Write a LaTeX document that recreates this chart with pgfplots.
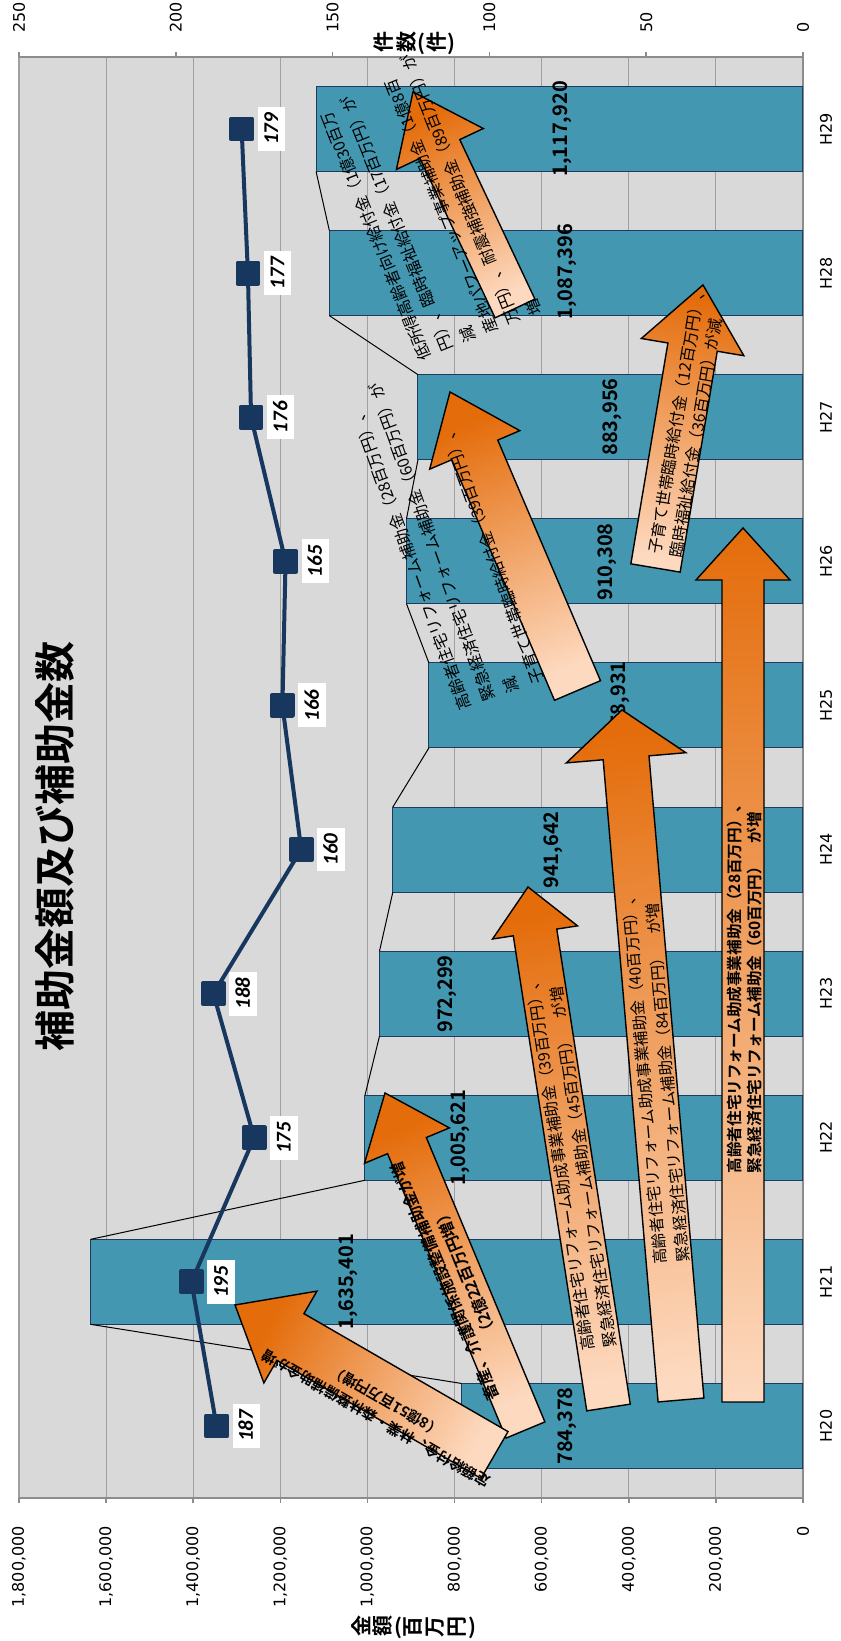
\documentclass[border=0pt]{standalone}
\usepackage{fontspec}
\setmainfont{Noto Sans CJK JP}[BoldFont={Noto Sans CJK JP Bold}]
\newfontfamily\dejavu{DejaVu Sans}
\newfontfamily\carlito{Carlito}
\usepackage{graphicx}
\usepackage{pgfplots}
\pgfplotsset{compat=1.18}
\usetikzlibrary{calc}

\definecolor{plotbg}{HTML}{D9D9D9}
\definecolor{gridc}{HTML}{A0A0A0}
\definecolor{axisc}{HTML}{8C8C8C}
\definecolor{barfill}{HTML}{4397B0}
\definecolor{baredge}{HTML}{1F3A5F}
\definecolor{navy}{HTML}{17375E}
\definecolor{arrdark}{HTML}{E46C0A}
\definecolor{arrlight}{HTML}{FDD9BF}

% #1 tail (X,Y) px, #2 tip (X,Y) px, #3 shaft half width, #4 head half width, #5 head length, #6 shading angle
\newcommand{\blockarrow}[6]{%
  \coordinate (aT) at #1; \coordinate (aP) at #2;
  \coordinate (aB) at ($(aP)!#5!(aT)$);
  \path[draw=black, line width=0.7pt, line join=miter, top color=arrdark, bottom color=arrlight, shading angle=#6]
    ($(aT)!#3!90:(aP)$) -- ($(aB)!#3!90:(aP)$) -- ($(aB)!#4!90:(aP)$) -- (aP)
    -- ($(aB)!#4!-90:(aP)$) -- ($(aB)!#3!-90:(aP)$) -- ($(aT)!#3!-90:(aP)$) -- cycle;
}
\newcommand{\rc}[1]{\makebox[1.05em][c]{\rotatebox[origin=c]{90}{#1}}}

\begin{document}
\begin{tikzpicture}
\useasboundingbox (0,0) rectangle (420pt,820.5pt);

\begin{axis}[
  at={(9.5pt,71.5pt)}, anchor=south west,
  width=392pt, height=720.5pt, scale only axis,
  xmin=0, xmax=1800000, x dir=reverse,
  ymin=-0.5, ymax=9.5,
  axis background/.style={fill=plotbg},
  axis x line*=bottom, axis y line*=right,
  axis line style={axisc, line width=1pt},
  xtick={0,200000,...,1800000},
  xmajorgrids, major grid style={draw=gridc, line width=0.6pt},
  xtick align=outside, major tick length=2.5pt,
  tick style={axisc, line width=0.8pt},
  ytick={0,...,9},
  yticklabels={H20,H21,H22,H23,H24,H25,H26,H27,H28,H29},
  ytick style={draw=none},
  scaled x ticks=false,
  xticklabel={\pgfmathprintnumber[fixed,precision=0,1000 sep={,},assume math mode=true]{\tick}},
  xticklabel style={rotate=90, anchor=east, font=\dejavu\fontsize{8}{9}\selectfont},
  xticklabel shift=8pt,
  yticklabel style={rotate=90, anchor=north, font=\dejavu\fontsize{8}{9}\selectfont},
  yticklabel shift=5pt,
  clip=false,
]
\addplot[xbar, bar width=0.59, fill=barfill, draw=baredge, line width=0.5pt]
  coordinates {(784378,0) (1635401,1) (1005621,2) (972299,3) (941642,4)
               (858931,5) (910308,6) (883956,7) (1087396,8) (1117920,9)};
% series lines between bars
\addplot[black, line width=0.5pt, unbounded coords=jump, mark=none]
  coordinates {(784378,0.295) (1635401,0.705) (nan,nan)
               (1635401,1.295) (1005621,1.705) (nan,nan)
               (1005621,2.295) (972299,2.705) (nan,nan)
               (972299,3.295) (941642,3.705) (nan,nan)
               (941642,4.295) (858931,4.705) (nan,nan)
               (858931,5.295) (910308,5.705) (nan,nan)
               (910308,6.295) (883956,6.705) (nan,nan)
               (883956,7.295) (1087396,7.705) (nan,nan)
               (1087396,8.295) (1117920,8.705)};
\end{axis}

\begin{axis}[
  at={(9.5pt,71.5pt)}, anchor=south west,
  width=392pt, height=720.5pt, scale only axis,
  xmin=0, xmax=250, x dir=reverse,
  ymin=-0.5, ymax=9.5,
  axis x line*=top, axis y line=none,
  axis line style={axisc, line width=1pt},
  xtick={0,50,...,250},
  xtick align=outside, major tick length=2.5pt,
  tick style={axisc, line width=0.8pt},
  xticklabel={\pgfmathprintnumber[fixed,precision=0,assume math mode=true]{\tick}},
  xticklabel style={rotate=90, anchor=west, font=\dejavu\fontsize{8}{9}\selectfont},
  xticklabel shift=6pt,
  clip=false,
]
\addplot[navy, line width=2pt, line join=round, mark=square*, mark size=5.2pt,
  mark options={solid, fill=navy, draw=navy},
  point meta=x,
  nodes near coords={\pgfmathprintnumber[fixed,precision=0,assume math mode=true]{\pgfplotspointmeta}},
  every node near coord/.style={xshift=7pt, rotate=90, anchor=north, fill=white, text=black,
     inner sep=3pt, text height=7.2pt, text depth=0.5pt,
     font=\carlito\bfseries\itshape\fontsize{10.5}{12}\selectfont}]
  coordinates {(187,0) (195,1) (175,2) (188,3) (160,4) (166,5) (165,6) (176,7) (177,8) (179,9)};
\end{axis}

\begin{scope}[x=0.5pt, y=-0.5pt, shift={(0pt,820.5pt)}]
% title and axis titles
\node[rotate=90, font=\bfseries\fontsize{20.5}{24}\selectfont] at (55,847) {補助金額及び補助金数};
\node[font=\bfseries\fontsize{10.5}{12}\selectfont, inner sep=0pt] at (413,1627) {\rc{金}\rc{額}(\rc{百}\rc{万}\rc{円})};
\node[font=\bfseries\fontsize{10.5}{12}\selectfont, inner sep=0pt] at (414,43) {\rc{件}\rc{数}(\rc{件})};

% bar value labels
\begin{scope}[every node/.style={rotate=90, font=\bfseries\fontsize{10}{12}\selectfont}]
\node at (567,1426) {784,378};
\node at (348,1282) {1,635,401};
\node at (460,1138) {1,005,621};
\node at (447,994) {972,299};
\node at (553,850) {941,642};
\node at (620,700) {858,931};
\node at (607,562) {910,308};
\node at (612,417) {883,956};
\node at (567,272) {1,087,396};
\node at (562,129) {1,117,920};
\end{scope}

% arrows
\blockarrow{(525.5,1430)}{(385,1093)}{10.5pt}{23pt}{28.5pt}{22.6}
\blockarrow{(494.5,1455)}{(235,1305)}{13.5pt}{26.5pt}{32pt}{60}
\blockarrow{(608.5,1407.5)}{(528,887)}{11pt}{21.5pt}{23pt}{8.8}
\blockarrow{(681,1400)}{(622,710)}{11.5pt}{30pt}{24pt}{4.9}
\blockarrow{(743,1402)}{(743,528)}{10.5pt}{23.5pt}{26pt}{0}
\blockarrow{(577.5,690.5)}{(450,392)}{12.5pt}{24.5pt}{31.5pt}{23.1}
\blockarrow{(655.5,568)}{(703,285)}{12.5pt}{26pt}{31.5pt}{-9.5}
\blockarrow{(515,308.5)}{(413,92)}{11pt}{24pt}{31.5pt}{25.2}

% arrow texts
\node[rotate=150, font=\bfseries\fontsize{7.2}{10}\selectfont, align=center] at (381,1410)
  {定額給付金、林業・森林整備補助金が増\\（8億51百万円増）};
\node[rotate=112.6, font=\bfseries\fontsize{8}{11}\selectfont, align=center] at (455,1277)
  {畜産、介護関係施設整備補助金が増\\（2億22百万円増）};
\node[rotate=98.6, font=\fontsize{7.9}{11.4}\selectfont, align=left] at (571,1161)
  {高齢者住宅リフォーム助成事業補助金（39百万円）、\\緊急経済住宅リフォーム補助金（45百万円）　が増};
\node[rotate=95, font=\fontsize{7.8}{11.4}\selectfont, align=left] at (655.5,1076)
  {高齢者住宅リフォーム助成事業補助金（40百万円）、\\緊急経済住宅リフォーム補助金（84百万円）　が増};
\node[rotate=90, font=\bfseries\fontsize{7.8}{10}\selectfont, align=left] at (745,985)
  {高齢者住宅リフォーム助成事業補助金（28百万円）、\\緊急経済住宅リフォーム補助金（60百万円）　が増};
\node[rotate=110, anchor=north west, inner sep=0pt, font=\fontsize{8}{13}\selectfont, align=left] at (458,713)
  {高齢者住宅リフォーム補助金（28百万円）、\\緊急経済住宅リフォーム補助金（60百万円）が\\減\\子育て世帯臨時給付金（39百万円）、};
\node[rotate=80.5, anchor=north west, inner sep=0pt, font=\fontsize{8}{10.9}\selectfont, align=left] at (646.5,553)
  {子育て世帯臨時給付金（12百万円）、\\臨時福祉給付金（36百万円）が減};
\node[rotate=112, anchor=north west, inner sep=0pt, font=\fontsize{8}{12}\selectfont, align=left] at (418.6,363.4)
  {低所得高齢者向け給付金（1億30百万\\円）、臨時福祉給付金（17百万円）が\\減\\産地パワーアップ事業補助金（1億8百\\万円）、耐震補強補助金（89百万円）が\\増};
\end{scope}
\end{tikzpicture}
\end{document}
